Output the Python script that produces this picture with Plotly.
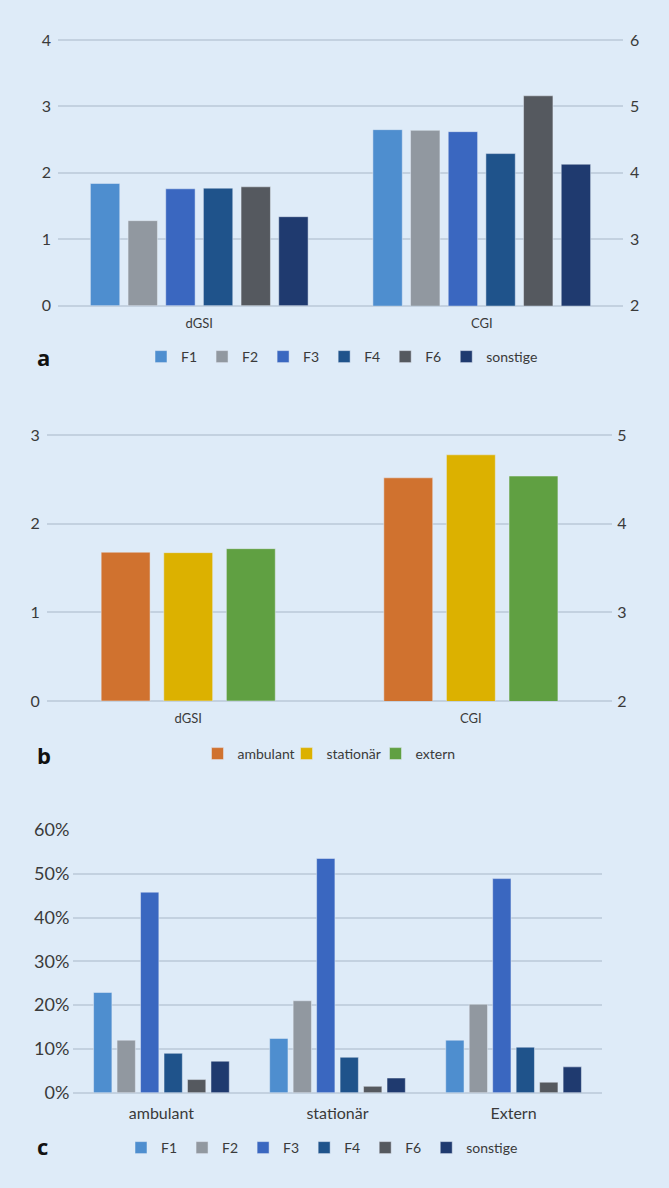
import plotly.graph_objects as go

# ---------------- data ----------------
series_f = ["F1", "F2", "F3", "F4", "F6", "sonstige"]
colors_f = ["#4e8ecf", "#9198a0", "#3a67c0", "#1f538b", "#55595f", "#1f3a6f"]

# panel a: dGSI on the left axis (0-4), CGI on the right axis (2-6)
cat_a = ["dGSI", "CGI"]
a_dgsi = [1.84, 1.28, 1.76, 1.77, 1.79, 1.34]
a_cgi = [4.65, 4.64, 4.62, 4.29, 5.16, 4.13]

# panel b: dGSI on the left axis (0-3), CGI on the right axis (2-5)
series_b = ["ambulant", "stationär", "extern"]
colors_b = ["#d0722f", "#dcb100", "#60a042"]
b_dgsi = [1.68, 1.675, 1.72]
b_cgi = [4.52, 4.78, 4.54]

# panel c (percent)
cat_c = ["ambulant", "stationär", "Extern"]
c_F1 = [22.9, 12.4, 12.0]
c_F2 = [12.0, 21.0, 20.2]
c_F3 = [45.8, 53.5, 48.9]
c_F4 = [9.0, 8.1, 10.4]
c_F6 = [3.0, 1.45, 2.4]
c_sonstige = [7.2, 3.35, 5.9]
c_values = [c_F1, c_F2, c_F3, c_F4, c_F6, c_sonstige]

# ---------------- style ----------------
BG = "#deebf8"
GRID = "#c3d1e0"
TXT = "#3a3a3a"
FONT = "Lato"
W, H = 669, 1188
EPS = 0.02  # tiny headroom so the top gridline is drawn


def px_x(p):
    return p / W


def px_y(p):
    return 1 - p / H


fig = go.Figure()

# panel a
for i, (name, col) in enumerate(zip(series_f, colors_f)):
    fig.add_trace(go.Bar(x=[cat_a[0]], y=[a_dgsi[i]], name=name, marker_color=col,
                         xaxis="x", yaxis="y", offsetgroup=name, alignmentgroup="a",
                         legendgroup="a" + name, legend="legend"))
    fig.add_trace(go.Bar(x=[cat_a[1]], y=[a_cgi[i]], name=name, marker_color=col,
                         xaxis="x", yaxis="y2", offsetgroup=name, alignmentgroup="a",
                         legendgroup="a" + name, legend="legend", showlegend=False))

# panel b (own bar width / spacing, as fractions of a category)
b_step, b_width = 0.2215, 0.173
nb = len(series_b)
for i, (name, col) in enumerate(zip(series_b, colors_b)):
    off = (i - nb / 2) * b_step + (b_step - b_width) / 2
    fig.add_trace(go.Bar(x=[cat_a[0]], y=[b_dgsi[i]], name=name, marker_color=col,
                         xaxis="x2", yaxis="y3", offsetgroup=name, alignmentgroup="b",
                         width=b_width, offset=off,
                         legendgroup="b" + name, legend="legend2"))
    fig.add_trace(go.Bar(x=[cat_a[1]], y=[b_cgi[i]], name=name, marker_color=col,
                         xaxis="x2", yaxis="y4", offsetgroup=name, alignmentgroup="b",
                         width=b_width, offset=off,
                         legendgroup="b" + name, legend="legend2", showlegend=False))

# panel c
for name, col, vals in zip(series_f, colors_f, c_values):
    fig.add_trace(go.Bar(x=cat_c, y=vals, name=name, marker_color=col,
                         xaxis="x3", yaxis="y5", offsetgroup=name, alignmentgroup="c",
                         legend="legend3"))

tick_num = dict(family=FONT, size=16, color=TXT)
cat_small = dict(family=FONT, size=13, color=TXT)
common_y = dict(showgrid=True, gridcolor=GRID, gridwidth=2, zeroline=True,
                zerolinecolor=GRID, zerolinewidth=2, showline=False, ticks="",
                fixedrange=True, automargin=False)
common_x = dict(type="category", showgrid=False, zeroline=False, showline=False,
                ticks="", fixedrange=True, automargin=False)
right_y = dict(side="right", showgrid=False, zeroline=False, showline=False, ticks="",
               tickfont=tick_num, fixedrange=True, automargin=False)
leg_common = dict(orientation="h", xanchor="center", yanchor="middle",
                  bgcolor="rgba(0,0,0,0)", font=dict(family=FONT, size=14, color=TXT),
                  itemwidth=30, traceorder="normal", itemclick=False,
                  itemdoubleclick=False)

a_top0, a_bot = 40, 305.7
a_unit = (a_bot - a_top0) / 4
b_top0, b_bot = 435.3, 701
b_unit = (b_bot - b_top0) / 3

fig.update_layout(
    width=W, height=H, margin=dict(l=0, r=0, t=0, b=0, autoexpand=False),
    paper_bgcolor=BG, plot_bgcolor=BG, barmode="group",
    bargap=0.2, bargroupgap=0.22, font=dict(family=FONT, color=TXT),
    xaxis=dict(domain=[px_x(58), px_x(623)], anchor="y", tickfont=cat_small,
               ticklabelstandoff=8, **common_x),
    yaxis=dict(domain=[px_y(a_bot), px_y(a_top0 - EPS * a_unit)], range=[0, 4 + EPS],
               dtick=1, anchor="x", ticklabelstandoff=6, tickfont=tick_num, **common_y),
    yaxis2=dict(overlaying="y", range=[2, 6 + EPS], dtick=1, anchor="x",
                ticklabelstandoff=6, **right_y),
    xaxis2=dict(domain=[px_x(46.9), px_x(612.2)], anchor="y3", tickfont=cat_small,
                ticklabelstandoff=8, **common_x),
    yaxis3=dict(domain=[px_y(b_bot), px_y(b_top0 - EPS * b_unit)], range=[0, 3 + EPS],
                dtick=1, anchor="x2", ticklabelstandoff=6, tickfont=tick_num, **common_y),
    yaxis4=dict(overlaying="y3", range=[2, 5 + EPS], dtick=1, anchor="x2",
                ticklabelstandoff=4, **right_y),
    xaxis3=dict(domain=[px_x(73.4), px_x(601.6)], anchor="y5",
                tickfont=dict(family=FONT, size=16, color=TXT), ticklabelstandoff=9,
                **common_x),
    yaxis5=dict(domain=[px_y(1092.7), px_y(830)], range=[0, 60], dtick=10,
                ticksuffix="%", anchor="x3", ticklabelstandoff=3,
                tickfont=dict(family=FONT, size=18, color=TXT), **common_y),
    legend=dict(x=px_x(342), y=px_y(357), **leg_common),
    legend2=dict(x=px_x(331), y=px_y(754), entrywidth=44, **leg_common),
    legend3=dict(x=px_x(322), y=px_y(1148), **leg_common),
)

# panel letters
for letter, ypx in [("a", 357), ("b", 755), ("c", 1146)]:
    fig.add_annotation(text=f"<b>{letter}</b>", x=px_x(35), y=px_y(ypx), xref="paper",
                       yref="paper", xanchor="left", yanchor="middle", showarrow=False,
                       font=dict(family="Open Sans", size=22, color="#111111"))

fig.write_html("out.html")
